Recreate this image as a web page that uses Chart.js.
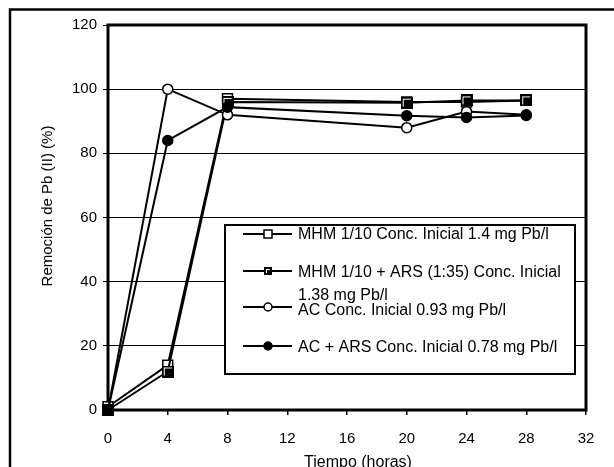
<!DOCTYPE html>
<html>
<head>
<meta charset="utf-8">
<script src="https://cdn.jsdelivr.net/npm/chart.js@4"></script>
<style>
  html, body { margin: 0; padding: 0; background: #fff; }
  #wrap { width: 614px; height: 467px; position: relative; }
</style>
</head>
<body>
<div id="wrap"><canvas id="c" width="614" height="467"></canvas></div>
<script>
// ---- data ----
const hours = [0, 4, 8, 20, 24, 28];
const mhm      = [1, 14, 97, 96, 96, 96.5];
const mhmArs   = [0, 12, 96, 95.8, 96.5, 96.5];
const ac       = [0, 100, 92, 88, 93, 92];
const acArs    = [0, 84, 94.4, 91.7, 91.2, 91.8];
const seriesLabels = [
  ['MHM 1/10 Conc. Inicial 1.4 mg Pb/l'],
  ['MHM 1/10 + ARS (1:35) Conc. Inicial', '1.38 mg Pb/l'],
  ['AC Conc. Inicial 0.93 mg Pb/l'],
  ['AC + ARS Conc. Inicial 0.78 mg Pb/l']
];
const xTitle = 'Tiempo (horas)';
const yTitle = 'Remoción de Pb (II) (%)';

const FONT = '"Liberation Sans", Arial, sans-serif';

// custom marker for "MHM + ARS": dark square with light inner corner
function makeHalfSquare(s) {
  const cv = document.createElement('canvas');
  cv.width = s; cv.height = s;
  const g = cv.getContext('2d');
  g.fillStyle = '#000';
  g.fillRect(0, 0, s, s);
  g.fillStyle = '#fff';
  g.fillRect(2, 2, s - 4, 1);
  g.fillRect(2, 2, 1, s - 4);
  return cv;
}
const halfSq = makeHalfSquare(12);
const halfSqSmall = makeHalfSquare(8);

function pts(arr) { return hours.map((h, i) => ({x: h, y: arr[i]})); }

const frame = {
  id: 'frame',
  beforeDraw(chart) {
    const ctx = chart.ctx;
    ctx.save();
    ctx.strokeStyle = '#000';
    ctx.lineWidth = 2.5;
    ctx.beginPath();
    ctx.moveTo(10, 467); ctx.lineTo(10, 9.5); ctx.lineTo(614, 9.5);
    ctx.stroke();
    ctx.restore();
  },
  beforeDatasetsDraw(chart) {
    const {ctx, chartArea: a} = chart;
    ctx.save();
    ctx.strokeStyle = '#000';
    ctx.lineWidth = 3;
    ctx.strokeRect(a.left, a.top, a.right - a.left, a.bottom - a.top);
    ctx.restore();
  },
  afterDraw(chart) {
    const ctx = chart.ctx;
    ctx.save();
    // axis titles
    ctx.fillStyle = '#000';
    ctx.font = '15px ' + FONT;
    ctx.textAlign = 'center';
    ctx.textBaseline = 'middle';
    ctx.save();
    ctx.translate(48, 206);
    ctx.rotate(-Math.PI / 2);
    ctx.fillText(yTitle, 0, 0);
    ctx.restore();
    ctx.font = '16px ' + FONT;
    ctx.fillText(xTitle, 358, 463);

    // legend
    const L = 225, T = 225, R = 575, B = 374;
    ctx.fillStyle = '#fff';
    ctx.fillRect(L, T, R - L, B - T);
    ctx.lineWidth = 2;
    ctx.strokeStyle = '#000';
    ctx.strokeRect(L, T, R - L, B - T);
    const rows = [234, 271, 307, 346];
    const textRows = [[235], [273, 296], [311], [348]];
    ctx.font = '16px ' + FONT;
    ctx.textAlign = 'left';
    rows.forEach((y, i) => {
      ctx.beginPath();
      ctx.lineWidth = 2;
      ctx.moveTo(243, y); ctx.lineTo(292, y);
      ctx.stroke();
      const mx = 268;
      ctx.lineWidth = 1.5;
      if (i === 0) {
        ctx.fillStyle = '#fff';
        ctx.fillRect(mx - 4, y - 4, 8, 8);
        ctx.strokeRect(mx - 4, y - 4, 8, 8);
      } else if (i === 1) {
        ctx.drawImage(halfSqSmall, mx - 4, y - 4);
      } else {
        ctx.beginPath();
        ctx.arc(mx, y, 4, 0, Math.PI * 2);
        ctx.fillStyle = i === 2 ? '#fff' : '#000';
        ctx.fill();
        ctx.stroke();
      }
      ctx.fillStyle = '#000';
      seriesLabels[i].forEach((t, j) => ctx.fillText(t, 298, textRows[i][j]));
    });
    ctx.restore();
  }
};

const common = {
  borderColor: '#000',
  borderWidth: 2,
  pointBorderColor: '#000',
  pointBorderWidth: 1.5,
  showLine: true,
  clip: false,
  tension: 0
};

new Chart(document.getElementById('c'), {
  type: 'scatter',
  data: {
    datasets: [
      Object.assign({}, common, {label: seriesLabels[0].join(' '), data: pts(mhm),
        pointStyle: 'rect', pointRadius: 7, pointBackgroundColor: '#fff', order: 4}),
      Object.assign({}, common, {label: seriesLabels[1].join(' '), data: pts(mhmArs),
        pointStyle: halfSq, pointRadius: 6, order: 3}),
      Object.assign({}, common, {label: seriesLabels[2].join(' '), data: pts(ac),
        pointStyle: 'circle', pointRadius: 5, pointBackgroundColor: '#fff', order: 2}),
      Object.assign({}, common, {label: seriesLabels[3].join(' '), data: pts(acArs),
        pointStyle: 'circle', pointRadius: 5, pointBackgroundColor: '#000', order: 1})
    ]
  },
  options: {
    responsive: false,
    animation: false,
    events: [],
    layout: { padding: { left: 0, top: 25, right: 28, bottom: 0 } },
    plugins: { legend: { display: false }, tooltip: { enabled: false } },
    scales: {
      x: {
        type: 'linear', min: 0, max: 32,
        afterFit(s) { s.height = 57; },
        ticks: { stepSize: 4, color: '#000', font: { family: FONT, size: 15 }, padding: 15, maxRotation: 0 },
        grid: { drawOnChartArea: false, drawTicks: true, tickLength: 5, color: '#000', lineWidth: 1.5 },
        border: { display: false }
      },
      y: {
        type: 'linear', min: 0, max: 120,
        afterFit(s) { s.width = 108; },
        ticks: { stepSize: 20, color: '#000', font: { family: FONT, size: 15 }, padding: 6 },
        grid: { drawOnChartArea: true, drawTicks: true, tickLength: 5, color: '#000', lineWidth: 1 },
        border: { display: false }
      }
    }
  },
  plugins: [frame]
});
</script>
</body>
</html>
